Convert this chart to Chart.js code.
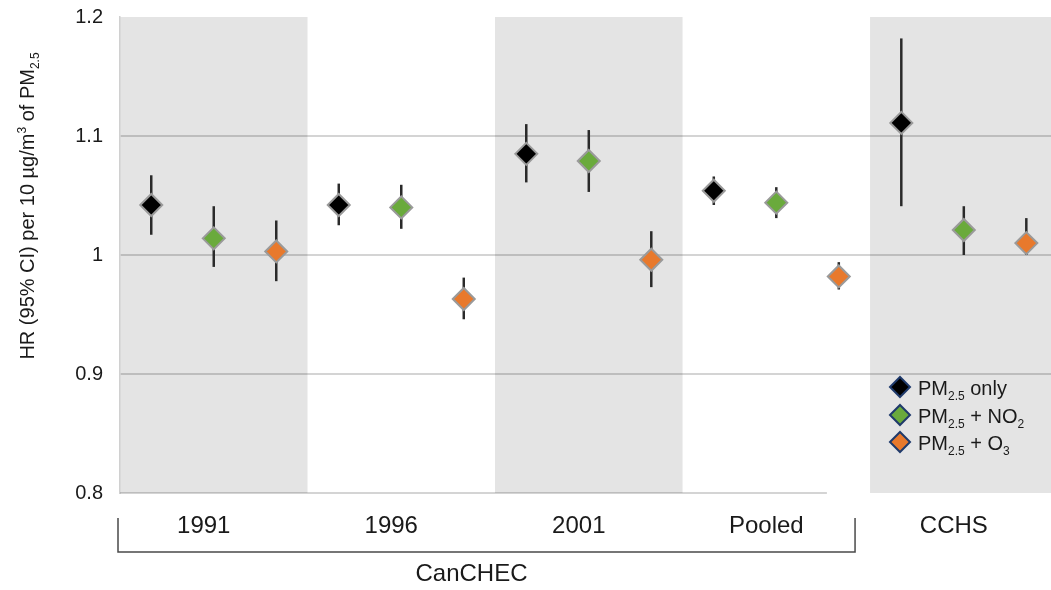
<!DOCTYPE html>
<html>
<head>
<meta charset="utf-8">
<script src="https://cdn.jsdelivr.net/npm/chart.js@4/dist/chart.umd.min.js"></script>
<style>
  html, body { margin: 0; padding: 0; background: #fff; }
  #wrap { width: 1051px; height: 590px; position: relative; }
</style>
</head>
<body>
<div id="wrap"><canvas id="c" width="1051" height="590"></canvas></div>
<script>
// ---------------- data ----------------
const categories = ['1991', '1996', '2001', 'Pooled', 'CCHS'];
const groupLabel = 'CanCHEC';
const yTickValues = [0.8, 0.9, 1.0, 1.1, 1.2];
const yTickLabels = ['0.8', '0.9', '1', '1.1', '1.2'];

const pmOnly     = [1.042, 1.042, 1.085, 1.054, 1.111];
const pmOnlyLow  = [1.017, 1.025, 1.061, 1.042, 1.041];
const pmOnlyHigh = [1.067, 1.060, 1.110, 1.066, 1.182];

const pmNO2      = [1.014, 1.040, 1.079, 1.044, 1.021];
const pmNO2Low   = [0.990, 1.022, 1.053, 1.031, 1.000];
const pmNO2High  = [1.041, 1.059, 1.105, 1.057, 1.041];

const pmO3       = [1.003, 0.963, 0.996, 0.982, 1.010];
const pmO3Low    = [0.978, 0.946, 0.973, 0.971, 1.000];
const pmO3High   = [1.029, 0.981, 1.020, 0.994, 1.031];

// ---------------- styles ----------------
const FONT = "'Liberation Sans', Arial, Helvetica, sans-serif";
const TEXT = '#1a1a1a';
const colors = ['#000000', '#6aaa3c', '#e8792c'];
const slotOffsets = [1/6, 1/2, 5/6];

const series = [
  { v: pmOnly, lo: pmOnlyLow, hi: pmOnlyHigh,
    legend: [{t:'PM'},{t:'2.5',sub:true},{t:' only'}] },
  { v: pmNO2, lo: pmNO2Low, hi: pmNO2High,
    legend: [{t:'PM'},{t:'2.5',sub:true},{t:' + NO'},{t:'2',sub:true}] },
  { v: pmO3, lo: pmO3Low, hi: pmO3High,
    legend: [{t:'PM'},{t:'2.5',sub:true},{t:' + O'},{t:'3',sub:true}] }
];

const datasets = series.map((s, k) => ({
  label: 'series' + k,
  data: s.v.map((val, i) => ({ x: i + slotOffsets[k], y: val, lo: s.lo[i], hi: s.hi[i] })),
  pointStyle: 'rectRot',
  pointRadius: 11,
  pointHoverRadius: 11,
  backgroundColor: colors[k],
  borderColor: '#9a9a9a',
  borderWidth: 2,
  showLine: false
}));

function drawRich(ctx, segs, x, y, size) {
  let cx = x;
  for (const s of segs) {
    const fs = (s.sub || s.sup) ? Math.round(size * 0.6) : size;
    ctx.font = fs + 'px ' + FONT;
    const dy = s.sub ? size * 0.26 : (s.sup ? -size * 0.4 : 0);
    ctx.fillText(s.t, cx, y + dy);
    cx += ctx.measureText(s.t).width;
  }
  return cx - x;
}
function measureRich(ctx, segs, size) {
  let w = 0;
  for (const s of segs) {
    const fs = (s.sub || s.sup) ? Math.round(size * 0.6) : size;
    ctx.font = fs + 'px ' + FONT;
    w += ctx.measureText(s.t).width;
  }
  return w;
}

const decorPlugin = {
  id: 'decor',
  beforeDraw(chart) {
    const { ctx, chartArea: a, scales: { x, y } } = chart;
    ctx.save();
    ctx.fillStyle = '#e4e4e4';
    for (let i = 0; i < categories.length; i += 2) {
      const x0 = x.getPixelForValue(i);
      const x1 = Math.min(x.getPixelForValue(i + 1), a.right);
      ctx.fillRect(x0, a.top, x1 - x0, a.bottom - a.top);
    }
    ctx.restore();
  },
  beforeDatasetsDraw(chart) {
    const { ctx, scales: { x, y } } = chart;
    ctx.save();
    // baseline at 0.8 under CanCHEC part
    ctx.strokeStyle = 'rgba(0,0,0,0.17)';
    ctx.lineWidth = 2;
    ctx.beginPath();
    ctx.moveTo(x.getPixelForValue(0), y.getPixelForValue(0.8));
    ctx.lineTo(x.getPixelForValue(3.77), y.getPixelForValue(0.8));
    ctx.stroke();
    // error bars
    ctx.strokeStyle = '#2a2a2a';
    ctx.lineWidth = 2.5;
    chart.data.datasets.forEach(ds => {
      ds.data.forEach(p => {
        const px = x.getPixelForValue(p.x);
        ctx.beginPath();
        ctx.moveTo(px, y.getPixelForValue(p.lo));
        ctx.lineTo(px, y.getPixelForValue(p.hi));
        ctx.stroke();
      });
    });
    ctx.restore();
  },
  afterDraw(chart) {
    const { ctx, chartArea: a, scales: { x } } = chart;
    ctx.save();
    ctx.fillStyle = TEXT;
    ctx.textBaseline = 'alphabetic';
    ctx.textAlign = 'left';

    // y-axis title (rotated, with sub/superscripts)
    const title = [{t:'HR (95% CI) per 10 µg/m'},{t:'3',sup:true},{t:' of PM'},{t:'2.5',sub:true}];
    ctx.save();
    ctx.translate(34, 206);
    ctx.rotate(-Math.PI / 2);
    const tw = measureRich(ctx, title, 20);
    drawRich(ctx, title, -tw / 2, 0, 20);
    ctx.restore();

    // bracket for CanCHEC group
    const bx0 = x.getPixelForValue(0) - 2;
    const bx1 = x.getPixelForValue(3.92);
    const by0 = a.bottom + 25, by1 = a.bottom + 59;
    ctx.strokeStyle = '#4a4a4a';
    ctx.lineWidth = 1.5;
    ctx.beginPath();
    ctx.moveTo(bx0, by0); ctx.lineTo(bx0, by1); ctx.lineTo(bx1, by1); ctx.lineTo(bx1, by0);
    ctx.stroke();
    ctx.font = '24px ' + FONT;
    ctx.textAlign = 'center';
    ctx.textBaseline = 'middle';
    ctx.fillText(groupLabel, (bx0 + bx1) / 2 - 15, a.bottom + 81);

    // legend
    ctx.textAlign = 'left';
    ctx.textBaseline = 'alphabetic';
    const lx = 900, rows = [387, 415, 442];
    series.forEach((s, k) => {
      const cy = rows[k];
      const r = 10;
      ctx.beginPath();
      ctx.moveTo(lx - r, cy); ctx.lineTo(lx, cy - r); ctx.lineTo(lx + r, cy); ctx.lineTo(lx, cy + r);
      ctx.closePath();
      ctx.fillStyle = colors[k];
      ctx.fill();
      ctx.strokeStyle = '#1f3a6b';
      ctx.lineWidth = 2;
      ctx.stroke();
      ctx.fillStyle = TEXT;
      drawRich(ctx, s.legend, 918, cy + 8, 20);
    });
    ctx.restore();
  }
};

new Chart(document.getElementById('c'), {
  type: 'scatter',
  data: { datasets },
  options: {
    responsive: false,
    animation: false,
    events: [],
    layout: { autoPadding: false, padding: { top: 17, right: 0, bottom: 0, left: 0 } },
    plugins: { legend: { display: false }, tooltip: { enabled: false } },
    scales: {
      x: {
        type: 'linear',
        min: 0,
        max: 4.965,
        grid: { display: false, drawTicks: false },
        border: { display: false },
        afterBuildTicks: s => { s.ticks = categories.map((c, i) => ({ value: i + 0.5 })); },
        afterFit: s => { s.height = 97; s.paddingLeft = 0; s.paddingRight = 0; },
        ticks: {
          autoSkip: false,
          maxRotation: 0,
          padding: 19,
          labelOffset: -10,
          color: TEXT,
          font: { family: FONT, size: 24 },
          callback: v => categories[Math.floor(v)]
        }
      },
      y: {
        min: 0.8,
        max: 1.2,
        afterBuildTicks: s => { s.ticks = yTickValues.map(v => ({ value: v })); },
        afterFit: s => { s.width = 120; s.paddingTop = 0; s.paddingBottom = 0; },
        grid: {
          drawTicks: false,
          lineWidth: 2,
          color: c => {
            const v = c.tick ? c.tick.value : null;
            if (v === null || Math.abs(v - 1.2) < 1e-6 || Math.abs(v - 0.8) < 1e-6) return 'rgba(0,0,0,0)';
            return 'rgba(0,0,0,0.17)';
          }
        },
        border: { display: true, color: '#d0d0d0', width: 1.5 },
        ticks: {
          padding: 17,
          color: TEXT,
          font: { family: FONT, size: 20 },
          callback: (v, i) => yTickLabels[i]
        }
      }
    }
  },
  plugins: [decorPlugin]
});
</script>
</body>
</html>
